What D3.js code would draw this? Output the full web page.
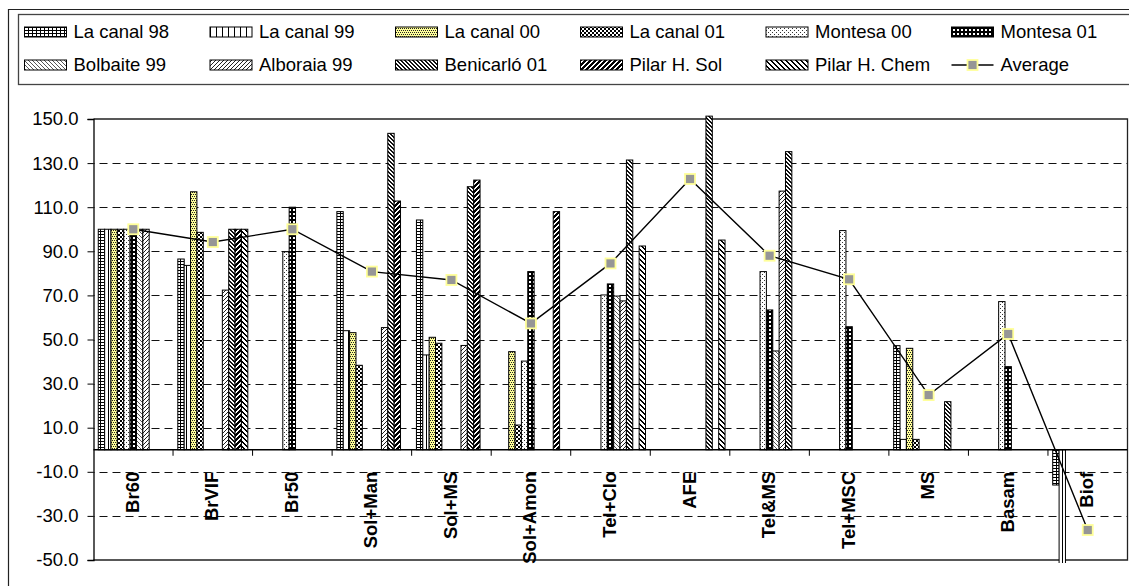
<!DOCTYPE html>
<html>
<head>
<meta charset="utf-8">
<script src="https://cdn.jsdelivr.net/npm/d3@7"></script>
<style>
  html, body { margin: 0; padding: 0; background: #fff; }
  svg { display: block; }
  text { font-family: "Liberation Sans", Arial, sans-serif; fill: #000; }
</style>
</head>
<body>
<svg id="chart" width="1129" height="586"></svg>
<script>
// ---- data ----
const categories = ["Br60", "BrVIF", "Br50", "Sol+Man", "Sol+MS", "Sol+Amon", "Tel+Clo",
                    "AFE", "Tel&MS", "Tel+MSC", "MS", "Basam", "Biof"];

const seriesNames = ["La canal 98", "La canal 99", "La canal 00", "La canal 01", "Montesa 00",
                     "Montesa 01", "Bolbaite 99", "Alboraia 99", "Benicarló 01", "Pilar H. Sol",
                     "Pilar H. Chem"];

const laCanal98   = [100, 86.5, null, 108, 104.2, null, null, null, null, null, 47.2, null, -16];
const laCanal99   = [100, 83.6, null, 54, 43, null, null, null, null, null, 4.7, null, -57];
const laCanal00   = [100, 117, null, 53.1, 51, 44.5, null, null, null, null, 46, null, null];
const laCanal01   = [100, 98.6, null, 38.3, 48.3, 11.2, null, null, null, null, 4.7, null, null];
const montesa00   = [100, null, 89.8, null, null, 40.2, 70.2, null, 80.8, 99.4, null, 67.2, null];
const montesa01   = [100, null, 110, null, null, 80.8, 75.2, null, 63.4, 55.8, null, 37.7, null];
const bolbaite99  = [100, null, null, null, null, null, 69.7, null, 44.8, null, null, null, null];
const alboraia99  = [100, 72.4, null, 55.4, 47.3, null, 67.5, null, 117.3, null, null, null, null];
const benicarlo01 = [null, 100, null, 143.5, 119.3, null, 131.4, 151.3, 135.2, null, 21.8, null, null];
const pilarSol    = [null, 100, null, 112.8, 122.3, 108, null, null, null, null, null, null, null];
const pilarChem   = [null, 100, null, null, null, null, 92.4, 95.1, null, null, null, null, null];

const average = [100, 94.2, 100, 80.8, 77, 57.3, 84.5, 122.8, 88, 77.3, 24.8, 52.5, -36.4];

const yTicks = [-50, -30, -10, 10, 30, 50, 70, 90, 110, 130, 150];
const gridValues = [-30, -10, 10, 30, 50, 70, 90, 110, 130];

const seriesValues = [laCanal98, laCanal99, laCanal00, laCanal01, montesa00, montesa01,
                      bolbaite99, alboraia99, benicarlo01, pilarSol, pilarChem];

// ---- layout ----
const svg = d3.select("#chart");
const plot = { left: 93.5, right: 1127.5, top: 119, bottom: 560 };
const FONT = 18.5;

const y = d3.scaleLinear().domain([-50, 150]).range([plot.bottom, plot.top]);
const x0 = d3.scaleBand().domain(categories).range([plot.left, plot.right]).paddingInner(0).paddingOuter(0);
const x1 = d3.scaleBand().domain(seriesNames).range([0, x0.bandwidth()]).paddingInner(0).paddingOuter(0.75);

// ---- fill patterns (pixel based, one per series) ----
const defs = svg.append("defs");
function pixelPattern(id, w, h, bg, fg, cells) {
  const p = defs.append("pattern").attr("id", id)
    .attr("patternUnits", "userSpaceOnUse").attr("width", w).attr("height", h);
  p.append("rect").attr("width", w).attr("height", h).attr("fill", bg);
  cells.forEach(([cx, cy, cw, ch]) => {
    p.append("rect").attr("x", cx).attr("y", cy).attr("width", cw || 1).attr("height", ch || 1)
      .attr("fill", fg).attr("shape-rendering", "crispEdges");
  });
}
function diag(w, thick, up) {
  const cells = [];
  for (let r = 0; r < w; r++) {
    for (let k = 0; k < thick; k++) {
      const cx = up ? ((w - 1 - r + k) % w) : ((r + k) % w);
      cells.push([cx, r]);
    }
  }
  return cells;
}
pixelPattern("pat0", 4, 3, "#fff", "#000", [[0, 0, 4, 1], [0, 0, 1, 3]]);
pixelPattern("pat1", 6, 6, "#fff", "#000", [[0, 0, 1, 6]]);
pixelPattern("pat2", 4, 4, "#ffff99", "#222", [[0, 0], [2, 0], [1, 2], [3, 2]]);
pixelPattern("pat3", 4, 4, "#fff", "#000", [[0, 0, 2, 2], [2, 2, 2, 2]]);
pixelPattern("pat4", 4, 4, "#fff", "#333", [[0, 0], [2, 2]]);
pixelPattern("pat5", 4, 4, "#000", "#fff", [[1, 1, 2, 2]]);
pixelPattern("pat6", 4, 4, "#fff", "#555", diag(4, 1, false));
pixelPattern("pat7", 4, 4, "#fff", "#222", diag(4, 1, true));
pixelPattern("pat8", 4, 4, "#fff", "#111", diag(4, 2, false));
pixelPattern("pat9", 5, 5, "#fff", "#000", diag(5, 3, true));
pixelPattern("pat10", 5, 5, "#fff", "#000", diag(5, 2, false));

defs.append("clipPath").attr("id", "plotClip").append("rect")
  .attr("x", plot.left).attr("y", plot.top - 6)
  .attr("width", plot.right - plot.left).attr("height", plot.bottom - plot.top + 9);

// ---- outer frame ----
svg.append("path").attr("d", "M8.5,590V9.5H1135")
  .attr("fill", "none").attr("stroke", "#222").attr("stroke-width", 1.2);

// ---- grid ----
svg.append("g").selectAll("line").data(gridValues).join("line")
  .attr("x1", plot.left).attr("x2", plot.right)
  .attr("y1", d => Math.round(y(d)) + 0.5).attr("y2", d => Math.round(y(d)) + 0.5)
  .attr("stroke", "#111").attr("stroke-width", 1)
  .attr("stroke-dasharray", "8,5").attr("stroke-dashoffset", -6);

// ---- plot border ----
svg.append("path")
  .attr("d", `M${plot.left},${plot.top}H${plot.right}V${plot.bottom}H${plot.left}`)
  .attr("fill", "none").attr("stroke", "#222").attr("stroke-width", 1.3);

// ---- bars ----
const barLayer = svg.append("g").attr("clip-path", "url(#plotClip)");
seriesValues.forEach((vals, s) => {
  const pts = vals.map((v, i) => ({ v, c: categories[i] })).filter(d => d.v !== null);
  barLayer.append("g").selectAll("rect").data(pts).join("rect")
    .attr("x", d => x0(d.c) + x1(seriesNames[s]))
    .attr("width", x1.bandwidth())
    .attr("y", d => Math.min(y(d.v), y(0)))
    .attr("height", d => Math.abs(y(d.v) - y(0)))
    .attr("fill", `url(#pat${s})`)
    .attr("stroke", "#000").attr("stroke-width", 1);
});

// ---- y axis ----
const yAxis = svg.append("g").attr("transform", `translate(${plot.left},0)`)
  .call(d3.axisLeft(y).tickValues(yTicks).tickFormat(d => d.toFixed(1)).tickSize(6).tickPadding(9));
yAxis.select(".domain").attr("stroke", "#000").attr("stroke-width", 1.3);
yAxis.selectAll(".tick line").attr("stroke", "#000");
yAxis.selectAll("text").attr("font-size", FONT).attr("font-family", "Liberation Sans, Arial, sans-serif");

// ---- x axis (at zero) ----
const zeroY = y(0);
svg.append("line").attr("x1", plot.left).attr("x2", plot.right)
  .attr("y1", zeroY).attr("y2", zeroY).attr("stroke", "#000").attr("stroke-width", 1.3);
svg.append("g").selectAll("line").data(categories.slice(1)).join("line")
  .attr("x1", d => x0(d)).attr("x2", d => x0(d))
  .attr("y1", zeroY).attr("y2", zeroY + 6)
  .attr("stroke", "#000");
svg.append("g").selectAll("text").data(categories).join("text")
  .attr("transform", d => `translate(${x0(d) + x0.bandwidth() / 2 - 1},${zeroY + 22}) rotate(-90)`)
  .attr("text-anchor", "end").attr("dy", "0.35em")
  .attr("font-size", FONT).attr("font-weight", "bold")
  .text(d => d);

// ---- average line ----
const cx = c => x0(c) + x0.bandwidth() / 2;
const avgPts = categories.map((c, i) => ({ c, v: average[i] }));
svg.append("path").datum(avgPts)
  .attr("d", d3.line().x(d => cx(d.c)).y(d => y(d.v)))
  .attr("fill", "none").attr("stroke", "#000").attr("stroke-width", 1.4);
svg.append("g").selectAll("rect").data(avgPts).join("rect")
  .attr("x", d => cx(d.c) - 5).attr("y", d => y(d.v) - 5)
  .attr("width", 10).attr("height", 10)
  .attr("fill", "#969696").attr("stroke", "#ffff99").attr("stroke-width", 1.8);

// ---- legend ----
const legend = svg.append("g");
legend.append("rect").attr("x", 18.5).attr("y", 14.5).attr("width", 1130).attr("height", 70)
  .attr("fill", "#fff").attr("stroke", "#444").attr("stroke-width", 1.3);
const colX = [24.5, 210, 395.5, 580.5, 766, 951.5];
const rowY = [32, 65];
const legendItems = seriesNames.concat(["Average"]);
legendItems.forEach((name, i) => {
  const gx = colX[i % 6], gy = rowY[Math.floor(i / 6)];
  const g = legend.append("g");
  if (name === "Average") {
    g.append("line").attr("x1", gx).attr("x2", gx + 42).attr("y1", gy).attr("y2", gy)
      .attr("stroke", "#000").attr("stroke-width", 1.4);
    g.append("rect").attr("x", gx + 16).attr("y", gy - 5).attr("width", 10).attr("height", 10)
      .attr("fill", "#969696").attr("stroke", "#ffff99").attr("stroke-width", 1.8);
  } else {
    g.append("rect").attr("x", gx).attr("y", gy - 5).attr("width", 42).attr("height", 10)
      .attr("fill", `url(#pat${i})`).attr("stroke", "#000").attr("stroke-width", 1);
  }
  g.append("text").attr("x", gx + 49).attr("y", gy).attr("dy", "0.35em")
    .attr("font-size", FONT).text(name);
});
</script>
</body>
</html>
